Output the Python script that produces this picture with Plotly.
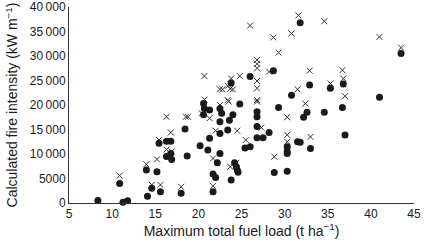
import plotly.graph_objects as go

# Circles (filled): fuel load (t/ha), fire intensity (kW/m)
circle_x = [8.35, 10.87, 11.26, 11.8, 13.97, 15.2, 15.44, 16.3, 16.8, 16.3, 16.8, 16.9,
            18.7, 18.45, 20.2, 14.1, 14.6, 15.6, 18.0, 20.6, 20.7, 20.6, 21.3, 22.5,
            22.7, 24.0, 24.8, 22.5, 23.6, 23.4, 22.5, 21.3, 21.1, 22.5, 22.2, 24.2,
            24.4, 24.5, 24.6, 21.7, 22.0, 23.8, 21.7, 26.8, 26.8, 26.8, 26.8, 27.5,
            28.2, 25.4, 26.0, 28.8, 30.3, 29.3, 30.3, 30.3, 30.3, 31.5, 32.6, 32.2,
            33.0, 34.6, 36.7, 31.8, 37.0, 31.8, 28.7, 26.0, 23.8, 30.8, 32.9, 43.5,
            35.3, 36.8, 41.0]
circle_y = [500, 4000, 150, 470, 6730, 6390, 12200, 12600, 12600, 9500, 10100, 8900,
            9600, 15100, 11700, 1400, 3000, 2300, 2000, 20300, 19300, 18000, 19000, 19300,
            18300, 18000, 20200, 16600, 16900, 14900, 14200, 13200, 10800, 10100, 8200, 8200,
            7400, 6800, 6300, 5900, 5200, 4700, 2300, 17600, 18600, 15600, 13300, 13300,
            14400, 11200, 11500, 6200, 6500, 19500, 11500, 10500, 10100, 12500, 18500, 17500,
            11100, 18500, 19500, 12400, 13900, 36800, 27000, 25800, 24500, 22000, 24100, 30500,
            23400, 24300, 21600]

# Crosses
cross_x = [10.87, 13.97, 15.2, 15.44, 16.8, 16.3, 16.9, 14.6, 15.6, 18.0, 16.3, 18.55,
           18.8, 20.4, 21.3, 22.5, 23.5, 22.0, 24.5, 21.7, 23.7, 24.4, 21.7, 26.8,
           27.3, 25.5, 28.8, 30.3, 30.3, 30.3, 32.4, 33.0, 26.0, 31.6, 30.8, 28.7,
           29.3, 26.8, 26.8, 26.8, 28.2, 20.7, 23.8, 24.8, 26.8, 26.8, 22.5, 22.8,
           23.7, 24.0, 23.4, 31.5, 32.9, 26.8, 23.4, 20.7, 34.6, 41.0, 43.5, 36.7,
           35.3, 36.8, 37.0]
cross_y = [5600, 7900, 8900, 12850, 14400, 10900, 10500, 3700, 3700, 3300, 17600, 17600,
           17600, 18300, 17300, 20000, 20700, 14750, 14750, 9100, 7400, 8200, 3500, 20700,
           15400, 12850, 9450, 17500, 13900, 12500, 20300, 13500, 36200, 38300, 34600, 33800,
           30700, 29200, 28400, 27500, 26800, 25900, 25400, 25900, 24900, 23400, 23200, 23200,
           23300, 23200, 23900, 23200, 27000, 21000, 21000, 21100, 37100, 33900, 31700, 27100,
           24400, 25400, 21800]

x_ticks = [5, 10, 15, 20, 25, 30, 35, 40, 45]
y_ticks = [0, 5000, 10000, 15000, 20000, 25000, 30000, 35000, 40000]
y_tick_labels = ["0", "5000", "10\u2009000", "15\u2009000", "20\u2009000", "25\u2009000",
                 "30\u2009000", "35\u2009000", "40\u2009000"]

fig = go.Figure()
fig.add_trace(go.Scatter(x=cross_x, y=cross_y, mode="markers",
                         marker=dict(symbol="x-thin-open", size=6, color="#333333",
                                     line=dict(width=1, color="#333333")),
                         showlegend=False, cliponaxis=False))
fig.add_trace(go.Scatter(x=circle_x, y=circle_y, mode="markers",
                         marker=dict(symbol="circle", size=7, color="#1a1a1a",
                                     line=dict(width=0)),
                         showlegend=False, cliponaxis=False))

font_family = "Liberation Sans, Arial, sans-serif"
fig.update_layout(
    width=424, height=244,
    margin=dict(l=69, r=10, t=7, b=41, autoexpand=False),
    paper_bgcolor="white", plot_bgcolor="white",
    font=dict(family=font_family, size=12, color="#1a1a1a"),
    xaxis=dict(range=[5, 45], tickvals=x_ticks, ticktext=[str(v) for v in x_ticks],
               showline=True, linecolor="#333333", linewidth=1, showgrid=False,
               zeroline=False, ticks="", tickfont=dict(size=12), automargin=False,
               title=dict(text="Maximum total fuel load (t ha<sup>\u22121</sup>)",
                          font=dict(size=14), standoff=5)),
    yaxis=dict(range=[0, 40000], tickvals=y_ticks, ticktext=y_tick_labels,
               showline=True, linecolor="#333333", linewidth=1, showgrid=False,
               zeroline=False, ticks="", tickfont=dict(size=12), automargin=False,
               title=dict(text="Calculated fire intensity (kW m<sup>\u22121</sup>)",
                          font=dict(size=14), standoff=8)),
)

fig.write_html("out.html", config={"displayModeBar": False},
               post_script="document.body.style.margin='0';")
